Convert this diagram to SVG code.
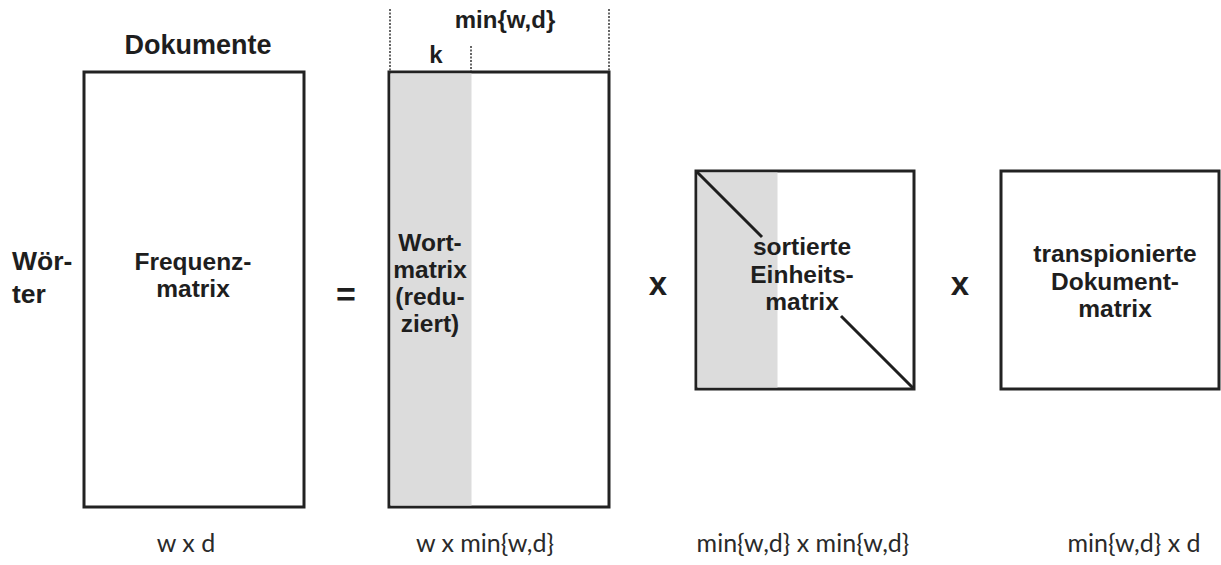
<svg xmlns="http://www.w3.org/2000/svg" width="1221" height="565" viewBox="0 0 1221 565">
<style>
.box{fill:#fff;stroke:#222;stroke-width:3}
.gray{fill:#dcdcdc;stroke:none}
.b{font-family:"Liberation Sans",Arial,sans-serif;font-weight:bold;fill:#1e1e1e;text-anchor:middle}
.lbl{font-family:Lato,"Liberation Sans",sans-serif;font-size:25px;fill:#2a2a2a;text-anchor:middle}
.dot{stroke:#333;stroke-width:1.5;stroke-dasharray:2 1.5;fill:none}
.diag{stroke:#1e1e1e;stroke-width:3;fill:none}
</style>
<rect width="1221" height="565" fill="#fff"/>

<g id="freq">
<text class="b" x="198" y="54" font-size="27">Dokumente</text>
<text class="b" x="12" y="270" font-size="26.5" text-anchor="start" style="text-anchor:start">Wör-</text>
<text class="b" x="12" y="303" font-size="26.5" style="text-anchor:start">ter</text>
<rect class="box" x="84" y="72" width="220" height="435"/>
<text class="b" x="193" y="270" font-size="24.5">Frequenz-</text>
<text class="b" x="193" y="297" font-size="24.5">matrix</text>
<text class="lbl" x="186" y="552">w x d</text>
</g>

<g id="eq">
<text class="b" x="346" y="306" font-size="34">=</text>
</g>

<g id="wort">
<rect class="box" x="389" y="72" width="220" height="435"/>
<rect class="gray" x="390.5" y="73.5" width="81" height="432"/>
<text class="b" x="430" y="251" font-size="24.5">Wort-</text>
<text class="b" x="430" y="278" font-size="24.5">matrix</text>
<text class="b" x="430" y="305" font-size="24.5">(redu-</text>
<text class="b" x="430" y="332" font-size="24.5">ziert)</text>
<text class="b" x="505" y="28" font-size="24">min{w,d}</text>
<text class="b" x="436" y="63" font-size="24">k</text>
<text class="lbl" x="485" y="552">w x min{w,d}</text>
</g>

<g id="x1">
<text class="b" x="658" y="295" font-size="33">x</text>
</g>

<g id="einheit">
<rect class="box" x="696" y="171" width="218" height="218"/>
<rect class="gray" x="697.5" y="172.5" width="80" height="215"/>
<text class="b" x="802" y="255" font-size="24.5">sortierte</text>
<text class="b" x="802" y="283" font-size="24.5">Einheits-</text>
<text class="b" x="802" y="310" font-size="24.5">matrix</text>
<text class="lbl" x="803" y="552">min{w,d} x min{w,d}</text>
</g>

<g id="x2">
<text class="b" x="960" y="295" font-size="33">x</text>
</g>

<g id="transp">
<rect class="box" x="1001" y="171" width="218" height="218"/>
<text class="b" x="1115" y="262" font-size="24.5">transpionierte</text>
<text class="b" x="1115" y="290" font-size="24.5">Dokument-</text>
<text class="b" x="1115" y="317" font-size="24.5">matrix</text>
<text class="lbl" x="1134" y="552">min{w,d} x d</text>
</g>

<g id="connectors">
<line class="dot" x1="390" y1="9" x2="390" y2="71"/>
<line class="dot" x1="609" y1="9" x2="609" y2="71"/>
<line class="dot" x1="471" y1="46" x2="471" y2="71"/>
<line class="diag" x1="697" y1="172" x2="762" y2="237"/>
<line class="diag" x1="841" y1="316" x2="913" y2="388"/>
</g>
</svg>
